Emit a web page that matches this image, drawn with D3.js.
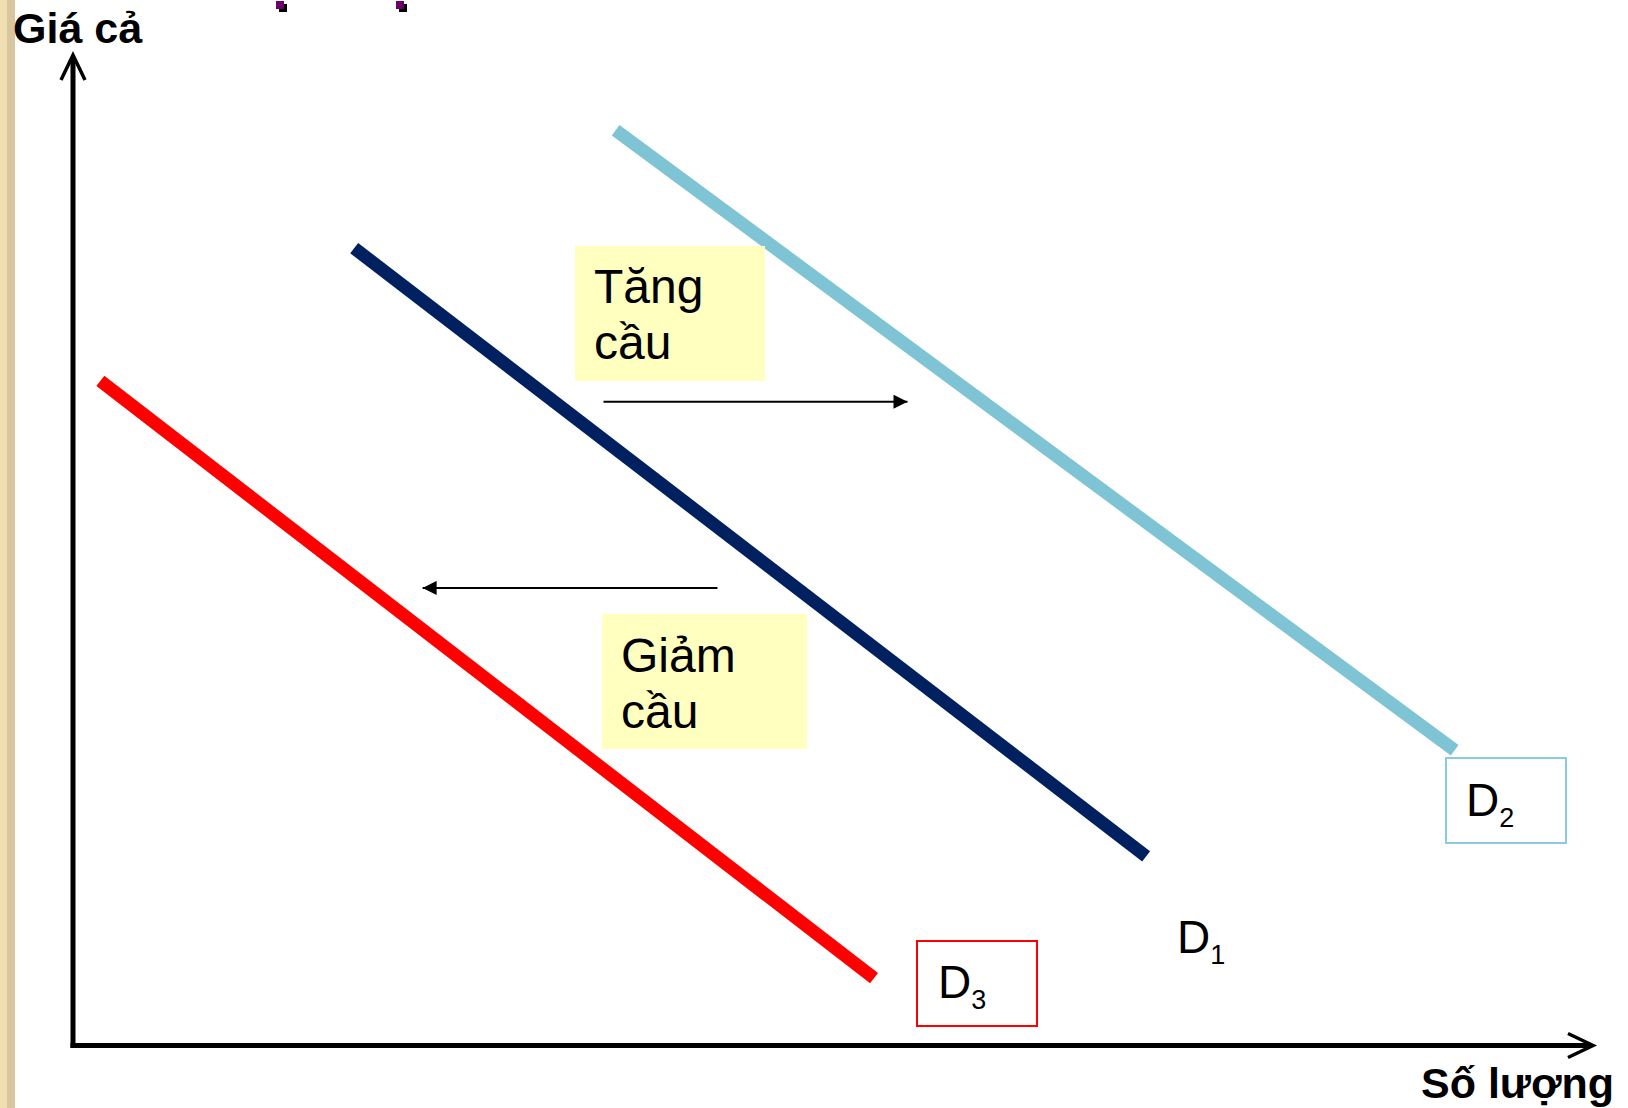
<!DOCTYPE html>
<html>
<head>
<meta charset="utf-8">
<script src="https://cdn.jsdelivr.net/npm/d3@7"></script>
<style>
  html, body { margin: 0; padding: 0; background: #fff; }
  svg { display: block; font-family: "Liberation Sans", Arial, sans-serif; }
</style>
</head>
<body>
<svg id="chart" width="1628" height="1108"></svg>
<script>
// ---- data (quantity / price units, 0..100) ----
const curveNames = ["D2", "D1", "D3"];
const curveSubs  = ["2", "1", "3"];
const curveStart = [[35.7, 92.4], [18.5, 80.5], [1.8, 67.1]];
const curveEnd   = [[90.9, 29.8], [70.6, 19.1], [52.7, 6.8]];
const curveColors = ["#7fc4d4", "#002060", "#ff0000"];

const shiftLabels = [["Tăng", "cầu"], ["Giảm", "cầu"]];
const shiftFrom   = [[34.9, 65.0], [42.4, 46.2]];
const shiftTo     = [[54.9, 65.0], [23.0, 46.2]];

const yAxisTitle = "Giá cả";
const xAxisTitle = "Số lượng";

// ---- scales ----
const W = 1628, H = 1108;
const x = d3.scaleLinear().domain([0, 100]).range([73, 1593]);
const y = d3.scaleLinear().domain([0, 100]).range([1045.5, 55]);

const svg = d3.select("#chart");

// background & left decorative strip
svg.append("rect").attr("width", W).attr("height", H).attr("fill", "#ffffff");
svg.append("rect").attr("x", 0).attr("y", 0).attr("width", 8).attr("height", H).attr("fill", "#efdfb2");
svg.append("rect").attr("x", 7).attr("y", 0).attr("width", 8).attr("height", H).attr("fill", "#d8c79e");

// tiny purple bullets at top
[276, 396].forEach(px => {
  svg.append("rect").attr("x", px + 3).attr("y", 4).attr("width", 8).attr("height", 8).attr("fill", "#000");
  svg.append("rect").attr("x", px).attr("y", 1).attr("width", 8).attr("height", 8).attr("fill", "#6b006b");
});

// defs: filled arrowhead
const defs = svg.append("defs");
defs.append("marker")
  .attr("id", "tri").attr("viewBox", "0 0 10 10")
  .attr("refX", 10).attr("refY", 5)
  .attr("markerUnits", "userSpaceOnUse")
  .attr("markerWidth", 15).attr("markerHeight", 14)
  .attr("orient", "auto")
  .append("path").attr("d", "M0,0 L10,5 L0,10 Z").attr("fill", "#000");

// ---- axes ----
const [x0] = x.range();
const [y0] = y.range();
svg.append("line")
  .attr("x1", x0).attr("y1", y0 + 2.5).attr("x2", x0).attr("y2", y(100) + 2)
  .attr("stroke", "#000").attr("stroke-width", 5);
svg.append("line")
  .attr("x1", x0 - 2.5).attr("y1", y0).attr("x2", x(100) - 2).attr("y2", y0)
  .attr("stroke", "#000").attr("stroke-width", 5);
// open chevron arrowheads
svg.append("path")
  .attr("d", `M${x0 - 12},${y(100) + 25} L${x0},${y(100)} L${x0 + 12},${y(100) + 25}`)
  .attr("fill", "none").attr("stroke", "#000").attr("stroke-width", 3.5);
svg.append("path")
  .attr("d", `M${x(100) - 25},${y0 - 12} L${x(100)},${y0} L${x(100) - 25},${y0 + 12}`)
  .attr("fill", "none").attr("stroke", "#000").attr("stroke-width", 3.5);

svg.append("text").attr("x", 13).attr("y", 43)
  .attr("font-size", 43).attr("font-weight", "bold").attr("fill", "#000").text(yAxisTitle);
svg.append("text").attr("x", 1421).attr("y", 1098)
  .attr("font-size", 43).attr("font-weight", "bold").attr("fill", "#000").text(xAxisTitle);

// ---- demand curves ----
const lineGen = d3.line().x(d => x(d[0])).y(d => y(d[1]));
curveNames.forEach((n, i) => {
  svg.append("path")
    .attr("d", lineGen([curveStart[i], curveEnd[i]]))
    .attr("fill", "none").attr("stroke", curveColors[i])
    .attr("stroke-width", 13).attr("stroke-linecap", "butt");
});

// ---- shift label boxes ----
const boxes = [
  { x: 575, y: 246, w: 190, h: 135, tx: 594, ty: 303 },
  { x: 602, y: 614, w: 205, h: 135, tx: 621, ty: 672 }
];
shiftLabels.forEach((lines, i) => {
  const b = boxes[i];
  svg.append("rect").attr("x", b.x).attr("y", b.y).attr("width", b.w).attr("height", b.h)
    .attr("fill", "#ffffc0");
  const t = svg.append("text").attr("x", b.tx).attr("y", b.ty)
    .attr("font-size", 48).attr("fill", "#000");
  lines.forEach((ln, j) => {
    t.append("tspan").attr("x", b.tx).attr("dy", j === 0 ? 0 : 56).text(ln);
  });
});

// ---- shift arrows ----
shiftFrom.forEach((f, i) => {
  svg.append("line")
    .attr("x1", x(f[0])).attr("y1", y(f[1]))
    .attr("x2", x(shiftTo[i][0])).attr("y2", y(shiftTo[i][1]))
    .attr("stroke", "#000").attr("stroke-width", 2)
    .attr("marker-end", "url(#tri)");
});

// ---- curve labels ----
const labelPos = [
  { box: { x: 1446, y: 758, w: 120, h: 85, c: "#8ccbdf" }, tx: 1466, ty: 816 },
  { box: null, tx: 1177, ty: 953 },
  { box: { x: 917, y: 941, w: 120, h: 85, c: "#ff0000" }, tx: 938, ty: 998 }
];
curveNames.forEach((n, i) => {
  const L = labelPos[i];
  if (L.box) {
    svg.append("rect").attr("x", L.box.x).attr("y", L.box.y)
      .attr("width", L.box.w).attr("height", L.box.h)
      .attr("fill", "none").attr("stroke", L.box.c).attr("stroke-width", 2);
  }
  const t = svg.append("text").attr("x", L.tx).attr("y", L.ty)
    .attr("font-size", 46).attr("fill", "#000");
  t.append("tspan").text("D");
  t.append("tspan").attr("font-size", 27).attr("dy", 11).text(curveSubs[i]);
});
</script>
</body>
</html>
